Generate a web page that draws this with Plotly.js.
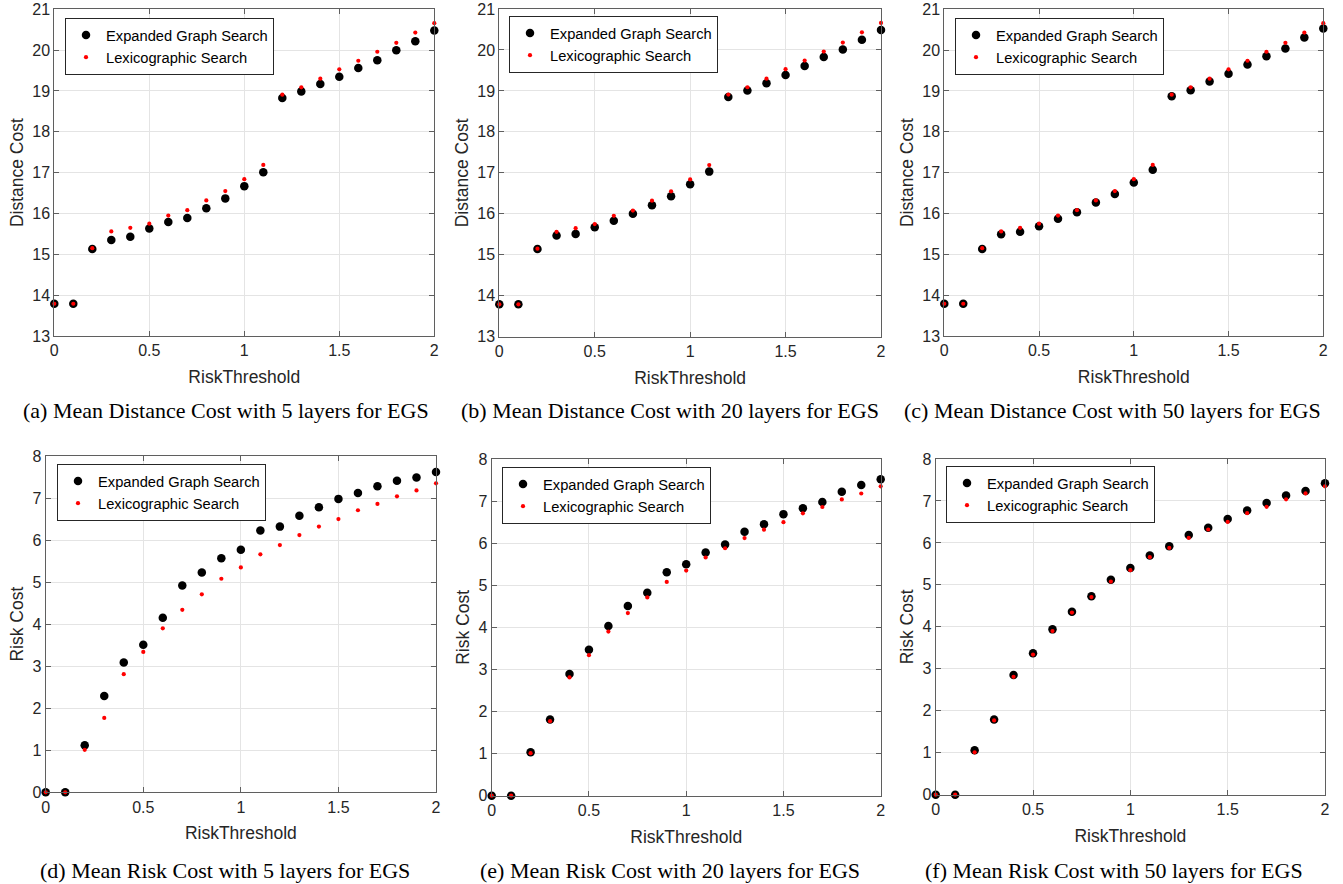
<!DOCTYPE html>
<html>
<head>
<meta charset="utf-8">
<script src="https://cdn.plot.ly/plotly-3.0.1.min.js"></script>
<style>html,body{margin:0;padding:0;background:#fff;}#chart{width:1343px;height:884px;}</style>
</head>
<body>
<div id="chart"></div>
<script>
// RiskThreshold values (x)
const riskThreshold = [0, 0.1, 0.2, 0.3, 0.4, 0.5, 0.6, 0.7, 0.8, 0.9, 1.0, 1.1, 1.2, 1.3, 1.4, 1.5, 1.6, 1.7, 1.8, 1.9, 2.0];

// Mean distance cost
const egsDist5  = [13.79, 13.79, 15.13, 15.35, 15.43, 15.63, 15.79, 15.89, 16.13, 16.37, 16.67, 17.01, 18.83, 18.99, 19.17, 19.35, 19.56, 19.75, 20.00, 20.22, 20.48];
const egsDist20 = [13.79, 13.79, 15.14, 15.47, 15.51, 15.67, 15.83, 16.00, 16.21, 16.43, 16.72, 17.03, 18.85, 19.01, 19.19, 19.39, 19.61, 19.83, 20.01, 20.25, 20.49];
const egsDist50 = [13.79, 13.79, 15.13, 15.49, 15.55, 15.69, 15.87, 16.03, 16.27, 16.48, 16.76, 17.07, 18.87, 19.02, 19.23, 19.42, 19.65, 19.85, 20.04, 20.31, 20.53];
const lexDist   = [13.79, 13.79, 15.15, 15.56, 15.65, 15.75, 15.95, 16.08, 16.32, 16.55, 16.84, 17.19, 18.91, 19.09, 19.30, 19.53, 19.74, 19.96, 20.18, 20.43, 20.66];

// Mean risk cost
const egsRisk5  = [0, 0, 1.12, 2.29, 3.09, 3.51, 4.15, 4.92, 5.23, 5.57, 5.77, 6.23, 6.32, 6.58, 6.78, 6.98, 7.12, 7.28, 7.41, 7.49, 7.62];
const egsRisk20 = [0, 0, 1.03, 1.81, 2.89, 3.47, 4.03, 4.51, 4.82, 5.31, 5.50, 5.78, 5.97, 6.27, 6.45, 6.69, 6.83, 6.98, 7.22, 7.38, 7.52];
const egsRisk50 = [0, 0, 1.06, 1.79, 2.85, 3.37, 3.94, 4.36, 4.73, 5.12, 5.40, 5.70, 5.92, 6.19, 6.36, 6.57, 6.77, 6.95, 7.13, 7.24, 7.42];
const lexRisk   = [0, 0, 1.01, 1.77, 2.81, 3.34, 3.90, 4.34, 4.71, 5.08, 5.35, 5.66, 5.88, 6.12, 6.32, 6.50, 6.71, 6.86, 7.04, 7.18, 7.35];

// Labels
const seriesNames = ["Expanded Graph Search", "Lexicographic Search"];
const xTitle = "RiskThreshold";
const yTitles = ["Distance Cost", "Risk Cost"];
const captions = [
  "(a) Mean Distance Cost with 5 layers for EGS",
  "(b) Mean Distance Cost with 20 layers for EGS",
  "(c) Mean Distance Cost with 50 layers for EGS",
  "(d) Mean Risk Cost with 5 layers for EGS",
  "(e) Mean Risk Cost with 20 layers for EGS",
  "(f) Mean Risk Cost with 50 layers for EGS"
];
const xTickVals = [0, 0.5, 1, 1.5, 2];
const xTickText = ["0", "0.5", "1", "1.5", "2"];

const W = 1343, H = 884;
const FONT = "Liberation Sans, Arial, Helvetica, sans-serif";
const SERIF = "Liberation Serif, Times New Roman, serif";

// panel geometry in pixels: [left, right, top, bottom], legend [left, top], caption [cx, cy]
const panels = [
  {egs: egsDist5,  lex: lexDist, kind: 0, box: [54.3, 434.3, 9.3, 336],   leg: [65, 18],  cap: [226, 410]},
  {egs: egsDist20, lex: lexDist, kind: 0, box: [499.3, 881, 9.0, 336.7],  leg: [509, 16], cap: [670, 410]},
  {egs: egsDist50, lex: lexDist, kind: 0, box: [944.3, 1323.3, 9.3, 336], leg: [955, 18], cap: [1112, 410]},
  {egs: egsRisk5,  lex: lexRisk, kind: 1, box: [45.7, 436, 456, 792.3],   leg: [57, 464], cap: [225, 870]},
  {egs: egsRisk20, lex: lexRisk, kind: 1, box: [491.7, 880.7, 459, 795.7], leg: [502, 467], cap: [670, 870]},
  {egs: egsRisk50, lex: lexRisk, kind: 1, box: [935.7, 1325, 459, 794.7], leg: [946, 466], cap: [1114, 870]}
];

const traces = [];
const layout = {
  width: W, height: H,
  margin: {l: 0, r: 0, t: 0, b: 0},
  paper_bgcolor: "#ffffff",
  plot_bgcolor: "#ffffff",
  font: {family: FONT, color: "#262626"},
  showlegend: true,
  annotations: []
};

panels.forEach((p, i) => {
  const n = i + 1;
  const xa = n === 1 ? "x" : "x" + n;
  const ya = n === 1 ? "y" : "y" + n;
  const xKey = n === 1 ? "xaxis" : "xaxis" + n;
  const yKey = n === 1 ? "yaxis" : "yaxis" + n;
  const legKey = n === 1 ? "legend" : "legend" + n;

  traces.push({
    x: riskThreshold, y: p.egs, xaxis: xa, yaxis: ya, legend: legKey,
    type: "scatter", mode: "markers", name: seriesNames[0], cliponaxis: false,
    marker: {color: "#000000", size: 8.5, line: {width: 0}}
  });
  traces.push({
    x: riskThreshold, y: p.lex, xaxis: xa, yaxis: ya, legend: legKey,
    type: "scatter", mode: "markers", name: seriesNames[1], cliponaxis: false,
    marker: {color: "#ff0000", size: 4.2, line: {width: 0}}
  });

  const common = {
    showline: true, linecolor: "#5f5f5f", linewidth: 1, mirror: "allticks",
    ticks: "inside", ticklen: 5, tickcolor: "#5f5f5f", tickwidth: 1,
    showgrid: true, gridcolor: "#e4e4e4", gridwidth: 1, zeroline: false,
    tickfont: {family: FONT, size: 16, color: "#262626"}
  };
  layout[xKey] = Object.assign({}, common, {
    domain: [p.box[0] / W, p.box[1] / W],
    anchor: ya, range: [0, 2],
    tickvals: xTickVals, ticktext: xTickText,
    title: {text: xTitle, font: {family: FONT, size: 17.5, color: "#262626"}, standoff: 12}
  });
  const yr = p.kind === 0 ? [13, 21] : [0, 8];
  layout[yKey] = Object.assign({}, common, {
    domain: [1 - p.box[3] / H, 1 - p.box[2] / H],
    anchor: xa, range: yr, dtick: 1, tick0: yr[0],
    title: {text: yTitles[p.kind], font: {family: FONT, size: 17.5, color: "#262626"}, standoff: 4}
  });
  layout[legKey] = {
    x: p.leg[0] / W, y: 1 - p.leg[1] / H, xanchor: "left", yanchor: "top",
    xref: "paper", yref: "paper",
    bgcolor: "#ffffff", bordercolor: "#262626", borderwidth: 1,
    font: {family: FONT, size: 14.7, color: "#000000"},
    tracegroupgap: 0, itemsizing: "trace"
  };
  layout.annotations.push({
    text: captions[i], xref: "paper", yref: "paper",
    x: p.cap[0] / W, y: 1 - p.cap[1] / H, xanchor: "center", yanchor: "middle",
    showarrow: false, font: {family: SERIF, size: 22, color: "#000000"}
  });
});

Plotly.newPlot("chart", traces, layout, {displayModeBar: false, staticPlot: true});
</script>
</body>
</html>
